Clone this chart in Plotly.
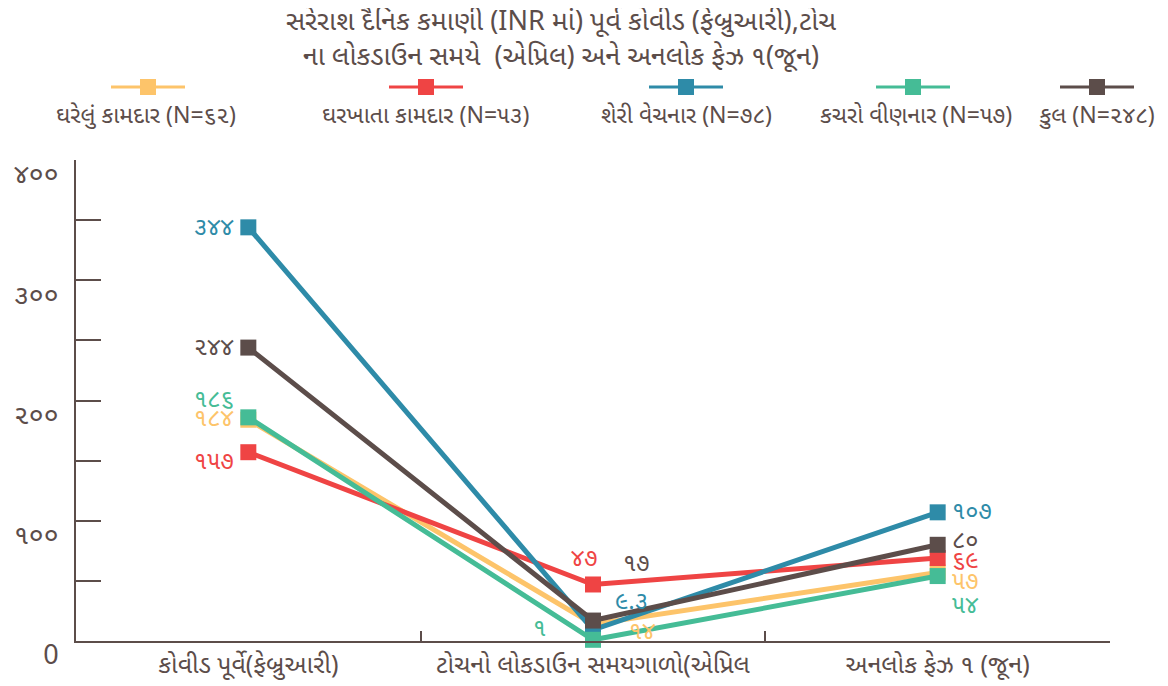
import plotly.graph_objects as go

# ---------------- data ----------------
categories = ["કોવીડ પૂર્વે(ફેબ્રુઆરી)", "ટોચનો લોકડાઉન સમયગાળો(એપ્રિલ", "અનલોક ફેઝ ૧ (જૂન)"]
series_names = ["ઘરેલું કામદાર (N=૬૨)", "ઘરખાતા કામદાર (N=૫૩)", "શેરી વેચનાર (N=૭૮)",
                "કચરો વીણનાર (N=૫૭)", "કુલ (N=૨૪૮)"]
domestic = [184, 14, 57]
home_based = [157, 47, 69]
street_vendor = [344, 9.3, 107]
waste_picker = [186, 1, 54]
total = [244, 17, 80]
y_tick_values = [0, 100, 200, 300, 400]
y_tick_labels = ["0", "૧૦૦", "૨૦૦", "૩૦૦", "૪૦૦"]

# ---------------- style ----------------
W, H = 1168, 686
OFF = 8  # page body margin of the rendered html
# target plot box in screen pixels: x 76..1110, y 160..641
ML, MR = 76 - OFF, W + OFF - 1110
MT, MB = 160 - OFF, H + OFF - 641
colors = ["#FDC46A", "#EF4444", "#2E8BA8", "#45BC96", "#5C4D4A"]
text_color = "#5C4D4A"
font_family = "Noto Sans Gujarati, Noto Sans, sans-serif"

# legend entry centres in screen pixels (symbol x, text x)
legend_sym_x = [148, 426, 686, 913, 1097]
legend_txt_x = [146, 425, 686, 916, 1097]
legend_sym_y = 87
legend_txt_y = 117

# label pixel offsets (dx, dy up-positive) per series per category
label_offsets = [
    [(-12, 0), (49, -9), (12, -11)],
    [(-12, -11), (-9, 24), (12, -4)],
    [(-12, -2), (38, 27), (12, -1)],
    [(-12, 16), (-54, 10), (12, -31)],
    [(-12, -1), (43, 56), (12, 3)],
]
anchors = ["right", "center", "left"]

GUJ = str.maketrans("0123456789", "૦૧૨૩૪૫૬૭૮૯")


def guj(v):
    return f"{v:g}".translate(GUJ)


def px_x(px):
    return (px - 76) / (1110 - 76)


def px_y(py):
    return (641 - py) / (641 - 160)


all_series = [domestic, home_based, street_vendor, waste_picker, total]

fig = go.Figure()
for name, vals, col in zip(series_names, all_series, colors):
    fig.add_trace(go.Scatter(
        x=categories, y=vals, name=name, mode="lines+markers",
        line=dict(color=col, width=5),
        marker=dict(symbol="square", size=16, color=col),
        cliponaxis=False,
    ))

annotations = []
for si, (vals, col) in enumerate(zip(all_series, colors)):
    for ci, v in enumerate(vals):
        dx, dy = label_offsets[si][ci]
        annotations.append(dict(
            x=categories[ci], y=v, text=guj(v), showarrow=False,
            xanchor=anchors[ci], yanchor="middle", xshift=dx, yshift=dy,
            font=dict(color=col, size=24, family=font_family),
        ))

# custom legend: symbol above text
shapes = []
for name, col, sx, tx in zip(series_names, colors, legend_sym_x, legend_txt_x):
    shapes.append(dict(type="line", xref="paper", yref="paper",
                       x0=px_x(sx - 37), x1=px_x(sx + 37),
                       y0=px_y(legend_sym_y), y1=px_y(legend_sym_y),
                       line=dict(color=col, width=3)))
    shapes.append(dict(type="rect", xref="paper", yref="paper",
                       x0=px_x(sx - 8), x1=px_x(sx + 8),
                       y0=px_y(legend_sym_y - 8), y1=px_y(legend_sym_y + 8),
                       line=dict(width=0), fillcolor=col))
    annotations.append(dict(
        xref="paper", yref="paper", x=px_x(tx), y=px_y(legend_txt_y),
        text=name, showarrow=False, xanchor="center", yanchor="middle",
        font=dict(size=23, color=text_color, family=font_family),
    ))

fig.update_layout(
    width=W, height=H,
    margin=dict(l=ML, r=MR, t=MT, b=MB, autoexpand=False),
    paper_bgcolor="white", plot_bgcolor="white",
    font=dict(family=font_family, color=text_color, size=18),
    title=dict(
        text="સરેરાશ દૈનિક કમાણી (INR માં) પૂર્વ કોવીડ (ફેબ્રુઆરી),ટોચ<br>ના લોકડાઉન સમયે  (એપ્રિલ) અને અનલોક ફેઝ ૧(જૂન)",
        x=(561 - OFF) / W, xanchor="center", y=1 - 22 / H, yanchor="top",
        font=dict(size=27, color=text_color, family=font_family),
    ),
    showlegend=False,
    annotations=annotations,
    shapes=shapes,
    xaxis=dict(
        type="category", range=[-0.5, 2.5], tickson="boundaries",
        showline=True, linecolor=text_color, linewidth=2,
        ticks="inside", ticklen=10, tickwidth=2, tickcolor=text_color,
        showgrid=False, tickangle=0, tickfont=dict(size=25, color=text_color),
    ),
    yaxis=dict(
        range=[0, 400], tickvals=y_tick_values, ticktext=y_tick_labels,
        showline=True, linecolor=text_color, linewidth=2,
        ticks="inside", ticklen=25, tickwidth=2, tickcolor=text_color,
        minor=dict(dtick=50, ticks="inside", ticklen=25, tickwidth=2, tickcolor=text_color),
        showgrid=False, zeroline=False, ticklabelshift=14, ticklabelstandoff=10,
        tickfont=dict(size=27, color=text_color),
    ),
)

fig.write_html("out.html")
